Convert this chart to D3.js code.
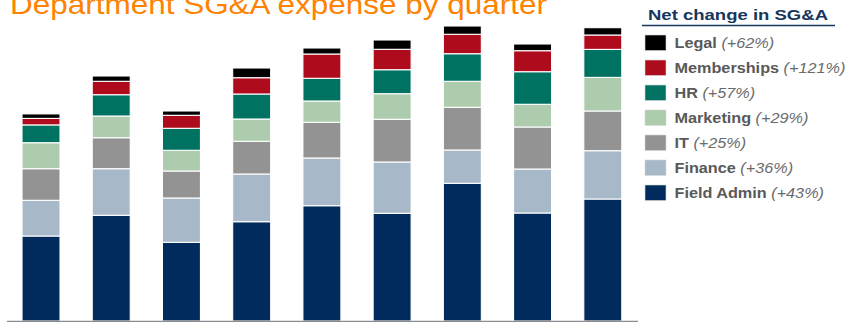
<!DOCTYPE html>
<html>
<head>
<meta charset="utf-8">
<script src="https://cdn.jsdelivr.net/npm/d3@7"></script>
<style>
  html, body { margin: 0; padding: 0; background: #fff; }
  svg { display: block; font-family: "Liberation Sans", Arial, sans-serif; }
</style>
</head>
<body>
<svg id="chart" width="846" height="322"></svg>
<script>
// Quarterly SG&A expense by department (stacked, bottom to top)
const quarters = ["Q1", "Q2", "Q3", "Q4", "Q5", "Q6", "Q7", "Q8", "Q9"];
const departments = ["Field Admin", "Finance", "IT", "Marketing", "HR", "Memberships", "Legal"];

const fieldAdmin  = [85.0, 105.7, 78.7, 99.3, 115.3, 107.7, 137.7, 108.0, 122.0];
const finance     = [35.7, 46.6, 44.3, 47.7, 47.7, 51.3, 33.3, 44.0, 48.3];
const it          = [31.6, 31.0, 27.0, 32.7, 35.7, 42.7, 42.7, 42.0, 39.7];
const marketing   = [26.0, 21.7, 20.7, 22.3, 21.3, 25.6, 26.0, 22.7, 33.6];
const hr          = [17.8, 21.3, 22.0, 25.0, 22.7, 24.0, 27.6, 32.6, 28.0];
const memberships = [6.5, 13.4, 13.0, 16.3, 24.3, 20.4, 19.4, 21.0, 14.4];
const legal       = [4.5, 5.3, 4.3, 9.7, 6.0, 9.3, 8.3, 6.7, 7.3];

// Legend labels: net change from first to last quarter
const legendNames = ["Legal", "Memberships", "HR", "Marketing", "IT", "Finance", "Field Admin"];
const legendChange = ["(+62%)", "(+121%)", "(+57%)", "(+29%)", "(+25%)", "(+36%)", "(+43%)"];

const colors = {
  "Field Admin": "#002b5c",
  "Finance": "#a7b8c8",
  "IT": "#939393",
  "Marketing": "#adcbad",
  "HR": "#007261",
  "Memberships": "#ae0c1d",
  "Legal": "#000000"
};

const seriesByDept = {
  "Field Admin": fieldAdmin, "Finance": finance, "IT": it, "Marketing": marketing,
  "HR": hr, "Memberships": memberships, "Legal": legal
};

const rows = quarters.map((q, i) => {
  const r = { quarter: q };
  departments.forEach(d => { r[d] = seriesByDept[d][i]; });
  return r;
});

const svg = d3.select("#chart");

const x = d3.scaleBand()
  .domain(quarters)
  .range([5.9, 637.9])
  .paddingInner(0.459)
  .paddingOuter(0.2295);

const y = d3.scaleLinear()
  .domain([0, 300])
  .range([321, 21]);

const stack = d3.stack().keys(departments);
const layers = stack(rows);

svg.append("g")
  .selectAll("g")
  .data(layers)
  .join("g")
    .attr("fill", d => colors[d.key])
  .selectAll("rect")
  .data(d => d)
  .join("rect")
    .attr("x", d => x(d.data.quarter))
    .attr("width", x.bandwidth())
    .attr("y", d => y(d[1]))
    .attr("height", d => y(d[0]) - y(d[1]))
    .attr("stroke", "#ffffff")
    .attr("stroke-width", 1.1);

// Baseline
svg.append("line")
  .attr("x1", 7).attr("x2", 638)
  .attr("y1", y(0) + 0.5).attr("y2", y(0) + 0.5)
  .attr("stroke", "#8c8c8c")
  .attr("stroke-width", 1.5);

// Title
svg.append("text")
  .attr("x", 10)
  .attr("y", 13.5)
  .attr("fill", "#ff8200")
  .attr("font-size", 28)
  .attr("textLength", 537)
  .attr("lengthAdjust", "spacingAndGlyphs")
  .text("Department SG&A expense by quarter");

// Legend
const legend = svg.append("g");

legend.append("text")
  .attr("x", 648)
  .attr("y", 20)
  .attr("fill", "#17365d")
  .attr("font-size", 15.5)
  .attr("font-weight", "bold")
  .attr("textLength", 180)
  .attr("lengthAdjust", "spacingAndGlyphs")
  .text("Net change in SG&A");

legend.append("line")
  .attr("x1", 642).attr("x2", 835)
  .attr("y1", 25.5).attr("y2", 25.5)
  .attr("stroke", "#17365d")
  .attr("stroke-width", 1.6);

const item = legend.selectAll("g.item")
  .data(legendNames)
  .join("g")
    .attr("class", "item")
    .attr("transform", (d, i) => `translate(645, ${35 + i * 25})`);

item.append("rect")
  .attr("width", 21)
  .attr("height", 15.5)
  .attr("fill", d => colors[d])
  .attr("stroke", "#d8d8d8")
  .attr("stroke-width", 0.6);

const label = item.append("text")
  .attr("transform", "translate(29.5, 13) scale(1.12, 1)")
  .attr("font-size", 14.5)
  .attr("fill", "#595959");

label.append("tspan")
  .attr("font-weight", "bold")
  .text(d => d);

label.append("tspan")
  .attr("font-style", "italic")
  .attr("fill", "#6b6b6b")
  .text((d, i) => "\u00a0" + legendChange[i]);
</script>
</body>
</html>
